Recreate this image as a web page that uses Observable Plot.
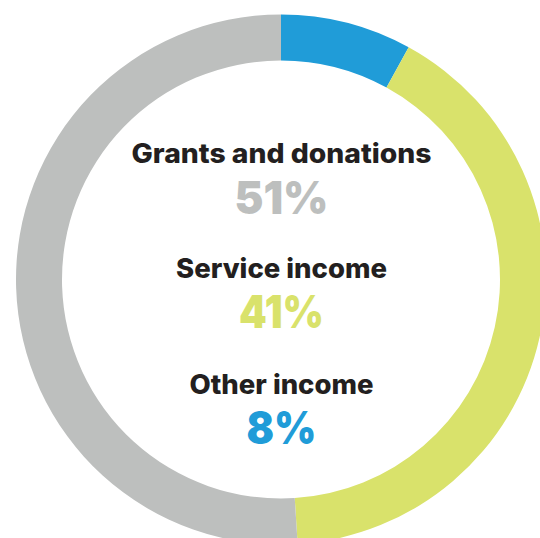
<!DOCTYPE html>
<html><head><meta charset="utf-8">
<script src="https://cdn.jsdelivr.net/npm/d3@7"></script>
<script src="https://cdn.jsdelivr.net/npm/@observablehq/plot@0.6"></script>
<style>html,body{margin:0;padding:0;background:#fff;overflow:hidden}</style>
</head><body><div id="chart"></div>
<script>
// ---- data ----
const categories = ["Other income", "Service income", "Grants and donations"];
const shares = [8, 41, 51];
const colors = ["#209CD8", "#D9E26B", "#BDBFBE"];
// order of the centre legend (top to bottom)
const legendOrder = ["Grants and donations", "Service income", "Other income"];

// ---- layout ----
const W = 540, H = 538;
const CX = 281, CY = 279.5, R = 265, INNER = 219;
const startDeg = 0;
// text baselines in pixels: [label, percent] per legend row
const rowBaselines = [[162, 213], [277, 327], [393, 443]];
const rowWidths = [[300, 94], [211, 85], [184, 70]];

const rows = categories.map((c, i) => ({category: c, share: shares[i], color: colors[i]}));
const pie = d3.pie().sort(null).value(d => d.share)
  .startAngle(startDeg * Math.PI / 180)
  .endAngle((360 + startDeg) * Math.PI / 180);
const slices = pie(rows);

const toY = py => (CY - py) / R;
const labelRows = [], pctRows = [];
legendOrder.forEach((c, k) => {
  const r = rows.find(d => d.category === c);
  labelRows.push({text: c, y: toY(rowBaselines[k][0]), w: rowWidths[k][0]});
  pctRows.push({text: `${r.share}%`, y: toY(rowBaselines[k][1]), color: r.color, w: rowWidths[k][1]});
});

function donut(index, scales) {
  const cx = scales.x(0), cy = scales.y(0);
  const rOut = scales.x(1) - scales.x(0);
  const arc = d3.arc().innerRadius(rOut * INNER / R).outerRadius(rOut);
  const g = d3.create("svg:g").attr("transform", `translate(${cx},${cy})`);
  g.selectAll("path").data(slices).join("path")
    .attr("d", arc).attr("fill", d => d.data.color);
  return g.node();
}

const chart = Plot.plot({
  width: W, height: H,
  margin: 0,
  style: {background: "#fff", overflow: "hidden"},
  x: {domain: [-1, 1], range: [CX - R, CX + R], axis: null},
  y: {domain: [-1, 1], range: [CY + R, CY - R], axis: null},
  marks: [
    donut,
    Plot.text(labelRows, {x: () => 0, y: "y", text: "text", lineAnchor: "bottom",
      fill: "#231F20", fontSize: 27, fontWeight: 800, fontFamily: "Inter"}),
    Plot.text(pctRows, {x: () => 0, y: "y", text: "text", lineAnchor: "bottom",
      fill: d => d.color, fontSize: 46, fontWeight: 900, fontFamily: "Inter"})
  ]
});
// stretch texts to the widths measured on the reference
const texts = chart.querySelectorAll("g[aria-label=text] text");
const all = [...labelRows, ...pctRows];
texts.forEach((t, i) => {
  if (all[i]) { t.setAttribute("textLength", all[i].w); t.setAttribute("lengthAdjust", "spacingAndGlyphs"); }
});
document.getElementById("chart").append(chart);
</script>
</body></html>
